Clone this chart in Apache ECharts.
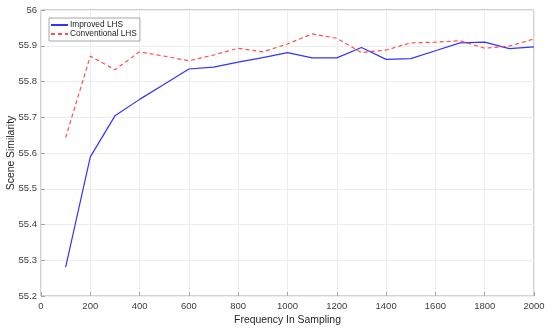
<!DOCTYPE html>
<html><head><meta charset="utf-8">
<script src="https://cdn.jsdelivr.net/npm/echarts@6/dist/echarts.min.js"></script>
<style>html,body{margin:0;padding:0;background:#fff}#c{width:550px;height:329px}</style>
</head><body><div id="c"></div>
<script>
const xs = [100,200,300,400,500,600,700,800,900,1000,1100,1200,1300,1400,1500,1600,1700,1800,1900,2000];
const improved = [55.281,55.589,55.704,55.750,55.792,55.835,55.840,55.854,55.867,55.881,55.866,55.866,55.895,55.862,55.864,55.886,55.908,55.910,55.892,55.897];
const conventional = [55.643,55.871,55.833,55.883,55.871,55.858,55.874,55.893,55.883,55.905,55.933,55.921,55.881,55.888,55.908,55.910,55.914,55.893,55.899,55.919];
const chart = echarts.init(document.getElementById('c'));
const lbl = {color:'#404040', fontFamily:'Liberation Sans, Arial', fontSize:9.5};
chart.setOption({
  animation:false,
  grid:{left:41, right:16, top:10, bottom:33, outerBoundsMode:'none', containLabel:false,
    show:true, borderColor:'#a6a6a6', borderWidth:1, backgroundColor:'transparent'},
  legend:{left:49, top:18, orient:'vertical', itemGap:1, itemWidth:17, itemHeight:10,
    backgroundColor:'#fff', borderColor:'#a6a6a6', borderWidth:1, borderRadius:0, padding:[3,3,3,1],
    itemStyle:{opacity:0},
    textStyle:{color:'#222', fontFamily:'Liberation Sans, Arial', fontSize:8.3, padding:[0,0,0,-3]},
    data:['Improved LHS','Conventional LHS']},
  xAxis:{type:'value', min:0, max:2000, interval:200,
    name:'Frequency In Sampling', nameLocation:'middle', nameGap:19, nameMoveOverlap:false,
    nameTextStyle:{color:'#262626', fontFamily:'Liberation Sans, Arial', fontSize:10.4},
    axisLine:{show:false}, axisTick:{show:true, inside:true, length:4, lineStyle:{color:'#a6a6a6'}},
    axisLabel:Object.assign({margin:5, formatter:v=>String(v)}, lbl),
    splitLine:{show:true, lineStyle:{color:'#ededed', width:1}}},
  yAxis:{type:'value', min:55.2, max:56, interval:0.1,
    name:'Scene Similarity', nameLocation:'middle', nameGap:25, nameMoveOverlap:false,
    nameTextStyle:{color:'#262626', fontFamily:'Liberation Sans, Arial', fontSize:10.4},
    axisLine:{show:false}, axisTick:{show:true, inside:true, length:4, lineStyle:{color:'#a6a6a6'}},
    axisLabel:Object.assign({margin:4, formatter:v=>String(+v.toFixed(1))}, lbl),
    splitLine:{show:true, lineStyle:{color:'#ededed', width:1}}},
  series:[
    {name:'Improved LHS', type:'line', symbol:'none', data:xs.map((x,i)=>[x,improved[i]]),
      lineStyle:{color:'#3333ff', width:1.2}, itemStyle:{color:'#3333ff'}},
    {name:'Conventional LHS', type:'line', symbol:'none', data:xs.map((x,i)=>[x,conventional[i]]),
      lineStyle:{color:'#ff4d4d', width:1.2, type:[4,3]}, itemStyle:{color:'#ff4d4d'}}
  ]
});
</script></body></html>
